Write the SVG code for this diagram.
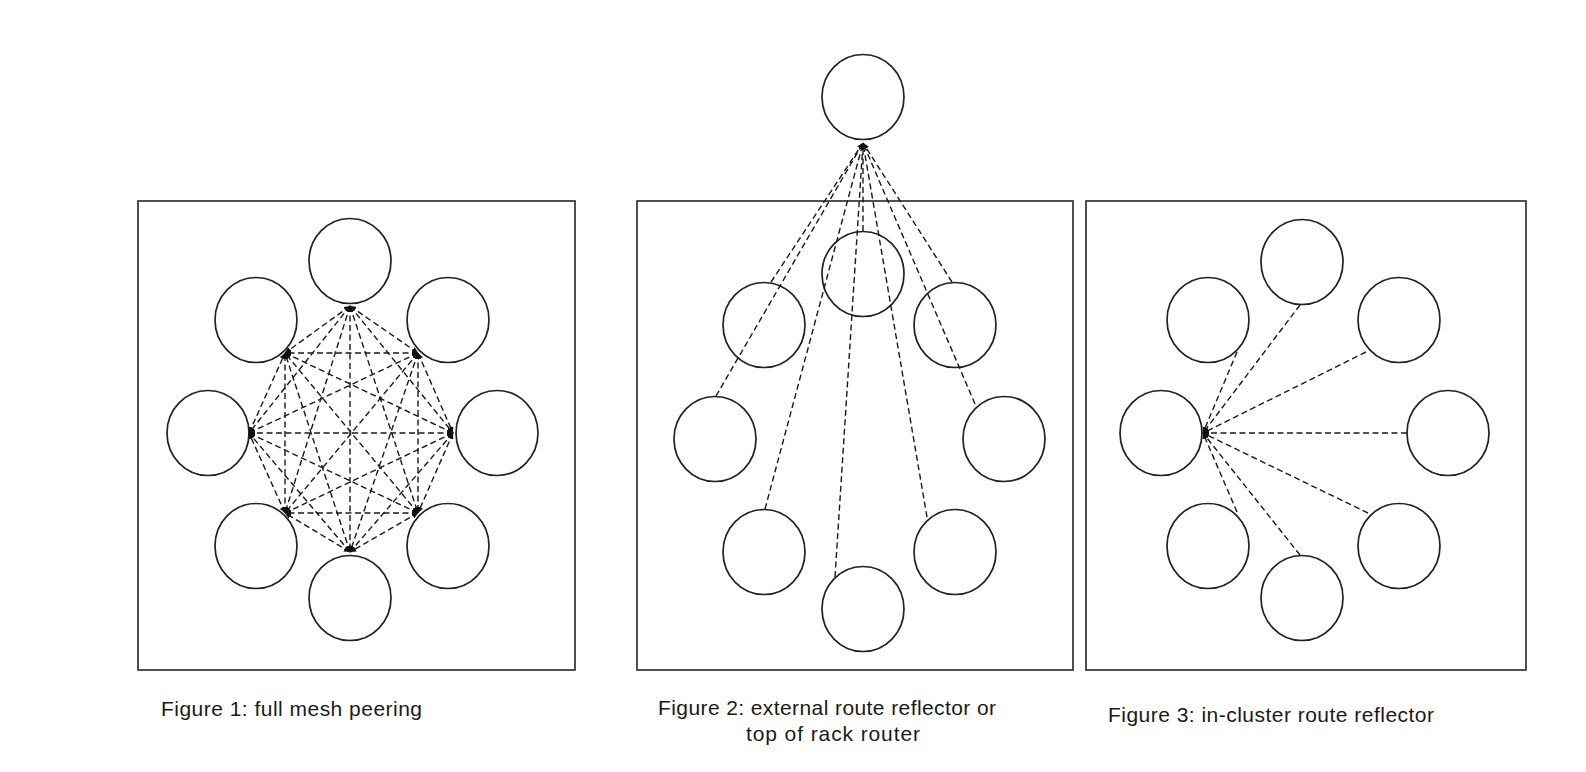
<svg xmlns="http://www.w3.org/2000/svg" width="1586" height="772" viewBox="0 0 1586 772">
<style>
.box{fill:none;stroke:#333;stroke-width:1.7}
.node{fill:#fff;stroke:#222;stroke-width:1.7}
.link{stroke:#1a1a1a;stroke-width:1.4;stroke-dasharray:6,3.5;fill:none}
.m2{marker-start:url(#dotS);marker-end:url(#dotE)}
.m1{marker-end:url(#dotE)}
.lbl{font-family:"Liberation Sans",Arial,sans-serif;font-size:21px;fill:#1a1a1a}
</style>
<defs>
<marker id="dotE" viewBox="0 0 6 6" markerWidth="6" markerHeight="6" refX="6" refY="3" orient="auto" markerUnits="userSpaceOnUse"><path d="M0,0 L6,3 L0,6 z" fill="#111"/></marker>
<marker id="dotS" viewBox="0 0 6 6" markerWidth="6" markerHeight="6" refX="6" refY="3" orient="auto-start-reverse" markerUnits="userSpaceOnUse"><path d="M0,0 L6,3 L0,6 z" fill="#111"/></marker>
</defs>
<rect fill="#fff" x="0" y="0" width="1586" height="772"/>
<g id="frames">
<rect id="frame1" class="box" x="138" y="201" width="437" height="469"/>
<rect id="frame2" class="box" x="637" y="201" width="436" height="469"/>
<rect id="frame3" class="box" x="1086" y="201" width="440" height="469"/>
</g>
<g id="fig1-nodes">
<g id="f1-top"><ellipse class="node" cx="350" cy="261" rx="41" ry="42.5"/></g>
<g id="f1-ur"><ellipse class="node" cx="448" cy="320" rx="41" ry="42.5"/></g>
<g id="f1-r"><ellipse class="node" cx="497" cy="433" rx="41" ry="42.5"/></g>
<g id="f1-lr"><ellipse class="node" cx="448" cy="546" rx="41" ry="42.5"/></g>
<g id="f1-b"><ellipse class="node" cx="350" cy="598" rx="41" ry="42.5"/></g>
<g id="f1-ll"><ellipse class="node" cx="256" cy="546" rx="41" ry="42.5"/></g>
<g id="f1-l"><ellipse class="node" cx="208" cy="433" rx="41" ry="42.5"/></g>
<g id="f1-ul"><ellipse class="node" cx="256" cy="320" rx="41" ry="42.5"/></g>
</g>
<g id="fig2-nodes">
<g id="f2-ext"><ellipse class="node" cx="863" cy="97" rx="41" ry="42.5"/></g>
<g id="f2-top"><ellipse class="node" cx="863" cy="274" rx="41" ry="42.5"/></g>
<g id="f2-ul"><ellipse class="node" cx="764" cy="325" rx="41" ry="42.5"/></g>
<g id="f2-ur"><ellipse class="node" cx="955" cy="325" rx="41" ry="42.5"/></g>
<g id="f2-l"><ellipse class="node" cx="715" cy="439" rx="41" ry="42.5"/></g>
<g id="f2-r"><ellipse class="node" cx="1004" cy="439" rx="41" ry="42.5"/></g>
<g id="f2-ll"><ellipse class="node" cx="764" cy="552" rx="41" ry="42.5"/></g>
<g id="f2-lr"><ellipse class="node" cx="955" cy="552" rx="41" ry="42.5"/></g>
<g id="f2-b"><ellipse class="node" cx="863" cy="609" rx="41" ry="42.5"/></g>
</g>
<g id="fig3-nodes">
<g id="f3-top"><ellipse class="node" cx="1302" cy="262" rx="41" ry="42.5"/></g>
<g id="f3-ur"><ellipse class="node" cx="1399" cy="320" rx="41" ry="42.5"/></g>
<g id="f3-r"><ellipse class="node" cx="1448" cy="433" rx="41" ry="42.5"/></g>
<g id="f3-lr"><ellipse class="node" cx="1399" cy="546" rx="41" ry="42.5"/></g>
<g id="f3-b"><ellipse class="node" cx="1302" cy="598" rx="41" ry="42.5"/></g>
<g id="f3-ll"><ellipse class="node" cx="1208" cy="546" rx="41" ry="42.5"/></g>
<g id="f3-l"><ellipse class="node" cx="1161" cy="433" rx="41" ry="42.5"/></g>
<g id="f3-ul"><ellipse class="node" cx="1208" cy="320" rx="41" ry="42.5"/></g>
</g>
<g id="connectors">
<g id="fig1-mesh" class="link m2">
<line x1="350" y1="306" x2="418" y2="353"/>
<line x1="350" y1="306" x2="453" y2="433"/>
<line x1="350" y1="306" x2="418" y2="513"/>
<line x1="350" y1="306" x2="350" y2="552"/>
<line x1="350" y1="306" x2="285" y2="513"/>
<line x1="350" y1="306" x2="249" y2="433"/>
<line x1="350" y1="306" x2="285" y2="353"/>
<line x1="418" y1="353" x2="453" y2="433"/>
<line x1="418" y1="353" x2="418" y2="513"/>
<line x1="418" y1="353" x2="350" y2="552"/>
<line x1="418" y1="353" x2="285" y2="513"/>
<line x1="418" y1="353" x2="249" y2="433"/>
<line x1="418" y1="353" x2="285" y2="353"/>
<line x1="453" y1="433" x2="418" y2="513"/>
<line x1="453" y1="433" x2="350" y2="552"/>
<line x1="453" y1="433" x2="285" y2="513"/>
<line x1="453" y1="433" x2="249" y2="433"/>
<line x1="453" y1="433" x2="285" y2="353"/>
<line x1="418" y1="513" x2="350" y2="552"/>
<line x1="418" y1="513" x2="285" y2="513"/>
<line x1="418" y1="513" x2="249" y2="433"/>
<line x1="418" y1="513" x2="285" y2="353"/>
<line x1="350" y1="552" x2="285" y2="513"/>
<line x1="350" y1="552" x2="249" y2="433"/>
<line x1="350" y1="552" x2="285" y2="353"/>
<line x1="285" y1="513" x2="249" y2="433"/>
<line x1="285" y1="513" x2="285" y2="353"/>
<line x1="249" y1="433" x2="285" y2="353"/>
</g>
<g id="fig2-links" class="link m1">
<line x1="771" y1="282" x2="863" y2="143"/>
<line x1="716" y1="396" x2="863" y2="143"/>
<line x1="765" y1="509" x2="863" y2="143"/>
<line x1="835" y1="577" x2="863" y2="143"/>
<line x1="863" y1="231" x2="863" y2="143"/>
<line x1="927" y1="517" x2="863" y2="143"/>
<line x1="975" y1="404" x2="863" y2="143"/>
<line x1="952" y1="282" x2="863" y2="143"/>
</g>
<g id="fig3-links" class="link m1">
<line x1="1237" y1="352" x2="1203" y2="433"/>
<line x1="1300" y1="305" x2="1203" y2="433"/>
<line x1="1366" y1="352" x2="1203" y2="433"/>
<line x1="1407" y1="433" x2="1203" y2="433"/>
<line x1="1368" y1="513" x2="1203" y2="433"/>
<line x1="1300" y1="555" x2="1203" y2="433"/>
<line x1="1237" y1="512" x2="1203" y2="433"/>
</g>
</g>
<g id="labels">
<text class="lbl" x="161" y="716" textLength="261" lengthAdjust="spacing">Figure 1: full mesh peering</text>
<text class="lbl" x="658" y="715" textLength="338" lengthAdjust="spacing">Figure 2: external route reflector or</text>
<text class="lbl" x="746" y="741" textLength="174" lengthAdjust="spacing">top of rack router</text>
<text class="lbl" x="1108" y="722" textLength="326" lengthAdjust="spacing">Figure 3: in-cluster route reflector</text>
</g>
</svg>
